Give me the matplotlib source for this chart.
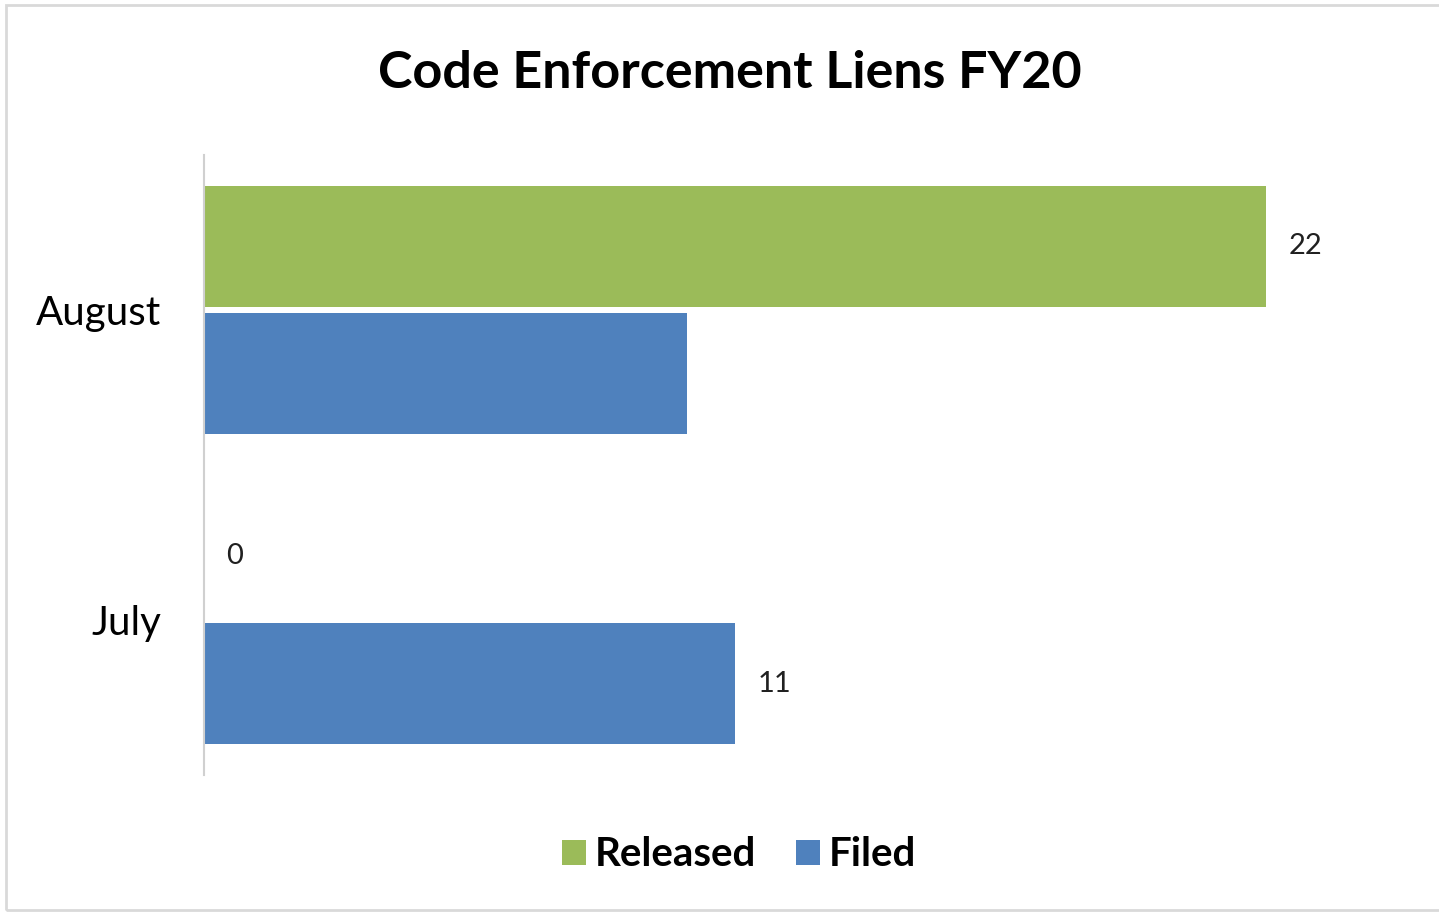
import matplotlib.pyplot as plt
from matplotlib.patches import Rectangle

# data
months = ['July', 'August']
released = [0, 22]
filed = [11, 10]
released_labels = ['0', '22']
filed_labels = ['11', None]   # August Filed has no label in the source

green = '#9BBB59'
blue = '#4F81BD'

plt.rcParams['font.family'] = ['Lato', 'DejaVu Sans']

fig = plt.figure(figsize=(14.39, 9.14), dpi=100)
ax = fig.add_axes([204 / 1439, 1 - 775 / 914, 1176 / 1439, 620 / 914])

# outer chart border
fig.patches.append(Rectangle((6 / 1439, 4 / 914), 1, 1 - 9 / 914,
                             transform=fig.transFigure, fill=False,
                             edgecolor='#d9d9d9', linewidth=2))

ypos = list(range(len(months)))
h = 0.39
off = 0.205
ax.barh([y + off for y in ypos], released, height=h, color=green, label='Released')
ax.barh([y - off for y in ypos], filed, height=h, color=blue, label='Filed')

# data labels
for y, v, t in zip(ypos, released, released_labels):
    if t is not None:
        ax.annotate(t, (v, y + off), xytext=(16, 0), textcoords='offset points',
                    va='center', ha='left', fontsize=21, color='#202020')
for y, v, t in zip(ypos, filed, filed_labels):
    if t is not None:
        ax.annotate(t, (v, y - off), xytext=(16, 0), textcoords='offset points',
                    va='center', ha='left', fontsize=21, color='#202020')

ax.set_xlim(0, 1176 / (1062 / 22))
ax.set_ylim(-0.5, 1.5)
ax.set_yticks(ypos)
ax.set_yticklabels(months, fontsize=29)
ax.tick_params(axis='y', length=0, pad=31)
ax.set_xticks([])
for s in ['top', 'right', 'bottom']:
    ax.spines[s].set_visible(False)
ax.spines['left'].set_color('#d0d0d0')
ax.spines['left'].set_linewidth(1.5)

fig.text(730 / 1439, 1 - 74 / 914, 'Code Enforcement Liens FY20', ha='center', va='center',
         fontsize=37.5, fontweight='bold')

leg = fig.legend(loc='center', bbox_to_anchor=(739 / 1439, 1 - 855 / 914), ncol=2,
                 frameon=False, handlelength=0.6, handleheight=0.6, handletextpad=0.2,
                 columnspacing=1.0, prop={'size': 29, 'weight': 'bold'})

fig.savefig('out.png', dpi=100)
